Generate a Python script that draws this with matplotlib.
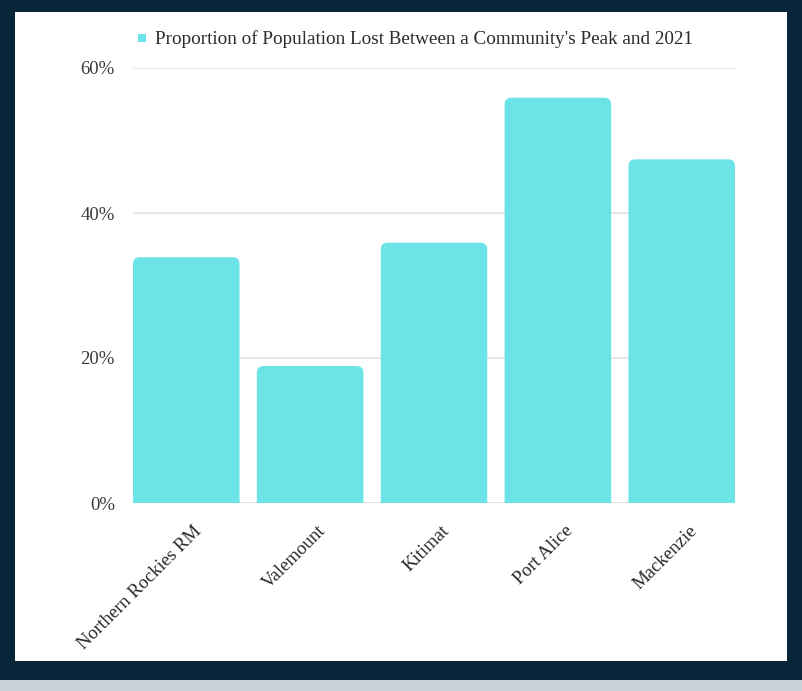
import numpy as np
import matplotlib.pyplot as plt
from matplotlib.patches import FancyBboxPatch, Rectangle
from matplotlib.transforms import ScaledTranslation

plt.rcParams.update({
    'font.family': ['Liberation Serif', 'DejaVu Serif'],
    'font.size': 11,
})

# Share of residents lost since each community's population peak
communities = ['Northern Rockies RM', 'Valemount', 'Kitimat', 'Port Alice', 'Mackenzie']
pct_lost = [33.9, 18.9, 35.9, 55.9, 47.4]
y_ticks = [0, 20, 40, 60]
series_label = "Proportion of Population Lost Between a Community's Peak and 2021"

BAR_COLOR = '#6ce3e7'
BG_DARK = '#08263a'

fig = plt.figure(figsize=(8.03, 6.91), dpi=100)
fig.patch.set_facecolor(BG_DARK)

# white card behind the chart, light strip along the bottom edge
fig.add_artist(Rectangle((15 / 803, 1 - 661 / 691), 772 / 803, 649 / 691,
                         transform=fig.transFigure, facecolor='white',
                         edgecolor='none', zorder=0))
fig.add_artist(Rectangle((0, 0), 1, 11 / 691, transform=fig.transFigure,
                         facecolor='#c8d1da', edgecolor='none', zorder=0))

ax = fig.add_axes([133 / 803, 1 - 503 / 691, 602 / 803, 435 / 691])
ax.set_facecolor('none')

x = np.arange(len(communities))
width = 0.86
ax.set_xlim(-width / 2, len(communities) - 1 + width / 2)
ax.set_ylim(0, 60)

# rounded tops: start each box below the axis so the lower corners get clipped
px_per_x = 602 / (len(communities) - 1 + width)
px_per_y = 435 / 60
for xi, v in zip(x, pct_lost):
    box = FancyBboxPatch((xi - width / 2, -3), width, v + 3,
                         boxstyle='round,pad=0,rounding_size=0.055',
                         mutation_aspect=px_per_x / px_per_y,
                         facecolor=BAR_COLOR, edgecolor='none', zorder=2)
    ax.add_patch(box)

ax.set_yticks(y_ticks)
ax.set_yticklabels([f'{t}%' for t in y_ticks], color='#3a3a3a', fontsize=13.5)
ax.grid(axis='y', color='#e3e3e3', linewidth=1.2, zorder=0)
ax.axhline(0, color='#d9d9d9', linewidth=1.2, zorder=1)
ax.tick_params(axis='both', length=0)
ax.tick_params(axis='y', pad=13)
ax.set_xticks(x)
ax.set_xticklabels(communities, rotation=45, ha='right', rotation_mode='anchor',
                   color='#2a2a2a', fontsize=13.5)
ax.tick_params(axis='x', pad=14)
# nudge the slanted labels so they end just right of each bar centre
shift = ScaledTranslation(7 / 100, 0, fig.dpi_scale_trans)
for lbl in ax.get_xticklabels():
    lbl.set_transform(lbl.get_transform() + shift)
for s in ax.spines.values():
    s.set_visible(False)

# legend entry above the plot
fig.add_artist(Rectangle((138 / 803, 1 - 42 / 691), 8 / 803, 8 / 691,
                         transform=fig.transFigure, facecolor=BAR_COLOR,
                         edgecolor='none'))
fig.text(155 / 803, 1 - 39 / 691, series_label, ha='left', va='center',
         fontsize=13.8, color='#2a2a2a')

fig.savefig('out.png', dpi=100, facecolor=fig.get_facecolor())
